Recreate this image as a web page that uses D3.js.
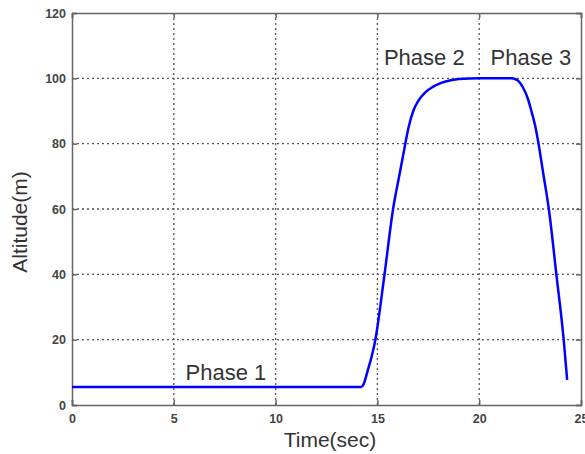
<!DOCTYPE html>
<html>
<head>
<meta charset="utf-8">
<script src="https://cdn.jsdelivr.net/npm/d3@7"></script>
<style>
  body { margin: 0; background: #fff; }
  .tick text { font-family: "Liberation Sans", Arial, sans-serif; font-size: 12.5px; font-weight: bold; fill: #444; }
  .grid line { stroke: #555; stroke-width: 1.3; stroke-dasharray: 2,3; }
  .phase { font-family: "Liberation Sans", Arial, sans-serif; font-size: 22px; fill: #333; }
  .label { font-family: "Liberation Sans", Arial, sans-serif; font-size: 21px; fill: #333; }
</style>
</head>
<body>
<svg id="chart" width="585" height="454"></svg>
<script>
// altitude profile
var timeSec = [0, 14.2, 14.32, 14.5, 14.9, 15.35, 15.77, 16.1, 16.37, 16.55, 16.78, 17.0, 17.35, 17.7, 18.17, 18.6, 19.0, 20.0,
               21.6, 21.75, 21.92, 22.15, 22.4, 22.55, 22.73, 22.9, 23.14, 23.42, 23.79, 24.15, 24.32];
var altitude = [5.5, 5.5, 6.3, 10, 20, 40, 60, 71, 80, 85.5, 90.3, 93.0, 95.7, 97.3, 98.7, 99.4, 99.8, 100,
                100, 99.8, 99.2, 97.2, 93.6, 90.3, 86.0, 80.5, 71.1, 60, 40, 20, 7.7];
var xTicks = [0, 5, 10, 15, 20, 25];
var yTicks = [0, 20, 40, 60, 80, 100, 120];
var phaseLabels = [
    { text: "Phase 1", t: 5.58, v: 7.6 },
    { text: "Phase 2", t: 15.32, v: 104.1 },
    { text: "Phase 3", t: 20.56, v: 104.1 }
];

var svg = d3.select("#chart");
var plotLeft = 72, plotRight = 581, plotTop = 13, plotBottom = 405;

var x = d3.scaleLinear().domain([0, 25]).range([plotLeft, plotRight]);
var y = d3.scaleLinear().domain([0, 120]).range([plotBottom, plotTop]);

// dotted grid
var grid = svg.append("g").attr("class", "grid");
grid.selectAll(".gx")
    .data(xTicks.slice(1, -1))
    .enter().append("line")
    .attr("x1", function(d) { return x(d); })
    .attr("x2", function(d) { return x(d); })
    .attr("y1", plotTop).attr("y2", plotBottom);
grid.selectAll(".gy")
    .data(yTicks.slice(1, -1))
    .enter().append("line")
    .attr("y1", function(d) { return y(d); })
    .attr("y2", function(d) { return y(d); })
    .attr("x1", plotLeft).attr("x2", plotRight);

function styleAxis(g) {
    g.selectAll("line,path").attr("stroke", "#666").attr("stroke-width", 1.5);
}

// axes (MATLAB box style, ticks inside)
svg.append("g").attr("transform", "translate(0," + plotBottom + ")")
    .call(d3.axisBottom(x).tickValues(xTicks).tickSize(-5).tickPadding(9))
    .call(styleAxis);
svg.append("g").attr("transform", "translate(" + plotLeft + ",0)")
    .call(d3.axisLeft(y).tickValues(yTicks).tickSize(-5).tickPadding(6))
    .call(styleAxis);
svg.append("g").attr("transform", "translate(0," + plotTop + ")")
    .call(d3.axisTop(x).tickValues(xTicks).tickSize(-5).tickFormat(""))
    .call(styleAxis);
svg.append("g").attr("transform", "translate(" + plotRight + ",0)")
    .call(d3.axisRight(y).tickValues(yTicks).tickSize(-5).tickFormat(""))
    .call(styleAxis);

// curve
var pts = timeSec.map(function(t, i) { return [t, altitude[i]]; });
var line = d3.line()
    .x(function(d) { return x(d[0]); })
    .y(function(d) { return y(d[1]); })
    .curve(d3.curveMonotoneX);

svg.append("path")
    .datum(pts)
    .attr("d", line)
    .attr("fill", "none")
    .attr("stroke", "#0000ff")
    .attr("stroke-width", 2.5);

svg.selectAll(".phase")
    .data(phaseLabels)
    .enter().append("text")
    .attr("class", "phase")
    .attr("x", function(d) { return x(d.t); })
    .attr("y", function(d) { return y(d.v); })
    .text(function(d) { return d.text; });

svg.append("text")
    .attr("class", "label")
    .attr("x", 330)
    .attr("y", 447)
    .attr("text-anchor", "middle")
    .text("Time(sec)");

svg.append("text")
    .attr("class", "label")
    .attr("transform", "translate(27,222) rotate(-90)")
    .attr("text-anchor", "middle")
    .text("Altitude(m)");
</script>
</body>
</html>
